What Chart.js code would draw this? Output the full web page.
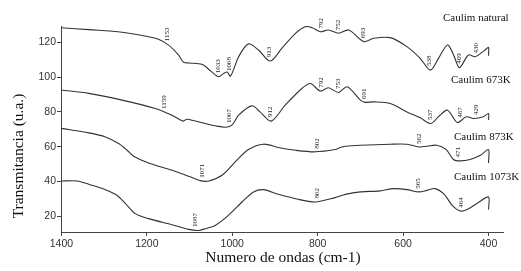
<!DOCTYPE html>
<html>
<head>
<meta charset="utf-8">
<script src="https://cdn.jsdelivr.net/npm/chart.js@4"></script>
<style>
  html, body { margin: 0; padding: 0; background: #fff; }
  #wrap { width: 521px; height: 271px; }
</style>
</head>
<body>
<div id="wrap"><canvas id="ftir"></canvas></div>
<script>
// Nombres de las muestras
const seriesNames = ['Caulim natural', 'Caulim 673K', 'Caulim 873K', 'Caulim 1073K'];

// Caulim natural (numero de onda / transmitancia)
const natX = [1400, 1336, 1258, 1180, 1150, 1126, 1114, 1100, 1071, 1050, 1032, 1020, 1012, 1004, 985, 962, 938, 911, 884, 852, 829, 813, 794, 775, 751, 727, 692, 669, 630, 591, 560, 536, 516, 496, 482, 468, 447, 431, 408, 400, 399.9];
const natY = [128.5, 127.4, 125.9, 122.4, 118.6, 112.8, 108.6, 108.2, 107.4, 103.5, 100.3, 102.2, 103, 100.6, 111.8, 119.2, 115.5, 109.3, 116.6, 125.3, 129.1, 128.5, 126.2, 127.2, 125.3, 127.2, 120.5, 122.4, 122.8, 117.6, 110.9, 104.1, 111.3, 118.6, 113, 105.5, 112.8, 111.8, 115.7, 117.2, 112.4];

// Caulim 673K
const k673X = [1400, 1336, 1258, 1180, 1141, 1115, 1106, 1063, 1040, 1015, 1000, 985, 954, 935, 909, 876, 837, 817, 794, 775, 751, 731, 700, 689, 669, 630, 591, 560, 535, 516, 496, 473, 452, 435, 412, 400, 399.9];
const k673Y = [92.6, 90.7, 86.8, 82, 78.1, 74.7, 75.8, 73.3, 72, 71.2, 72.5, 78.1, 83.5, 80, 74.7, 83.9, 93.5, 96.4, 92, 93.9, 91.2, 94.5, 86.8, 85.5, 85.8, 84.9, 80, 76.6, 73.3, 77.5, 81, 73.9, 77.2, 76.2, 77.2, 79.1, 75.3];

// Caulim 873K
const k873X = [1400, 1336, 1297, 1266, 1246, 1231, 1196, 1141, 1102, 1075, 1055, 1024, 993, 962, 927, 892, 852, 806, 759, 747, 735, 700, 630, 591, 563, 544, 521, 499, 482, 466, 443, 419, 400, 399.9];
const k873Y = [70.5, 67.9, 65.6, 61.8, 57.9, 54.5, 50.6, 46.4, 42.9, 40.4, 40.2, 43.5, 51.2, 58.3, 61.4, 59.5, 57.9, 57, 58.3, 59.5, 60.2, 60.8, 61.4, 61.4, 59.8, 60.2, 60.8, 58.3, 52.6, 51.8, 52.6, 55, 58.3, 50.6];

// Caulim 1073K
const k1073X = [1400, 1363, 1336, 1297, 1270, 1250, 1227, 1196, 1141, 1102, 1079, 1063, 1040, 1009, 977, 950, 927, 892, 852, 806, 759, 735, 700, 654, 622, 591, 563, 544, 525, 505, 485, 466, 450, 427, 400, 399.9];
const k1073Y = [40.2, 40.2, 38.3, 35.2, 32, 27.2, 21.4, 18.5, 15, 12.3, 11.7, 12.7, 14.6, 20.4, 28.1, 33.9, 35.2, 32.5, 30, 28.1, 30.6, 32.5, 33.9, 34.5, 35.8, 35.2, 33.9, 34.8, 35.8, 32.9, 26.2, 22.9, 23.7, 27.2, 31, 23.7];

// Bandas marcadas en cada espectro
const natPeaks = [1153, 1033, 1008, 913, 792, 752, 693, 538, 469, 430];
const k673Peaks = [1159, 1007, 912, 792, 753, 691, 537, 467, 429];
const k873Peaks = [1071, 802, 562, 471];
const k1073Peaks = [1087, 802, 565, 464];

// Marcas de los ejes
const xTicks = [1400, 1200, 1000, 800, 600, 400];
const yTicks = [20, 40, 60, 80, 100, 120];

const allX = [natX, k673X, k873X, k1073X];
const allY = [natY, k673Y, k873Y, k1073Y];
const allPeaks = [natPeaks, k673Peaks, k873Peaks, k1073Peaks];

// interpolacion lineal para ubicar las etiquetas sobre la curva
function valueAt(xs, ys, v) {
  for (let i = 0; i < xs.length - 1; i++) {
    const a = xs[i], b = xs[i + 1];
    if ((v <= a && v >= b) && a !== b) {
      const t = (a - v) / (a - b);
      return ys[i] + t * (ys[i + 1] - ys[i]);
    }
  }
  return ys[ys.length - 1];
}

const serif = "'Liberation Serif', 'Times New Roman', serif";

const annotations = {
  id: 'annotations',
  afterDatasetsDraw(chart) {
    const { ctx, scales: { x, y }, chartArea } = chart;
    ctx.save();
    ctx.fillStyle = '#222';

    // numeros de las bandas, rotados
    ctx.font = '7px ' + serif;
    ctx.textAlign = 'left';
    ctx.textBaseline = 'middle';
    allPeaks.forEach((peaks, i) => {
      peaks.forEach(p => {
        const px = x.getPixelForValue(p);
        const py = y.getPixelForValue(valueAt(allX[i], allY[i], p));
        ctx.save();
        ctx.translate(px, py - 3);
        ctx.rotate(-Math.PI / 2);
        ctx.fillText(String(p), 0, 0);
        ctx.restore();
      });
    });

    // nombres de las muestras
    const spots = [[443, 18], [451, 80], [454, 137], [454, 177]];
    ctx.font = '11px ' + serif;
    ctx.fillStyle = '#111';
    seriesNames.forEach((name, i) => {
      ctx.fillText(name, spots[i][0], spots[i][1]);
    });

    // titulos de los ejes
    ctx.font = '15.5px ' + serif;
    ctx.textAlign = 'center';
    ctx.fillText('Numero de ondas (cm-1)', (chartArea.left + chartArea.right) / 2 + 1, 258);
    ctx.save();
    ctx.translate(19, 156);
    ctx.rotate(-Math.PI / 2);
    ctx.fillText('Transmitancia (u.a.)', 0, 0);
    ctx.restore();

    ctx.restore();
  }
};

const ctx = document.getElementById('ftir').getContext('2d');

new Chart(ctx, {
  type: 'line',
  data: {
    datasets: allX.map((xs, i) => ({
      label: seriesNames[i],
      data: xs.map((v, j) => ({ x: v, y: allY[i][j] })),
      borderColor: '#333',
      borderWidth: 1.1,
      pointRadius: 0,
      tension: 0.3,
      fill: false
    }))
  },
  options: {
    responsive: true,
    maintainAspectRatio: false,
    animation: false,
    layout: { padding: { left: 0, right: 18, top: 26, bottom: 0 } },
    plugins: {
      legend: { display: false },
      tooltip: { enabled: false }
    },
    scales: {
      x: {
        type: 'linear',
        reverse: true,
        min: 366,
        max: 1401,
        afterBuildTicks: s => { s.ticks = xTicks.map(v => ({ value: v })); },
        afterFit: s => { s.height = 39; },
        grid: { drawOnChartArea: false, drawTicks: true, tickLength: 4, color: '#444' },
        border: { color: '#444', width: 1 },
        ticks: {
          padding: 2,
          color: '#333',
          font: { family: "'Liberation Sans', Arial, sans-serif", size: 10.5 },
          maxRotation: 0,
          callback: v => String(v)
        }
      },
      y: {
        type: 'linear',
        min: 10.8,
        max: 129.5,
        afterBuildTicks: s => { s.ticks = yTicks.map(v => ({ value: v })); },
        afterFit: s => { s.width = 61; },
        grid: { drawOnChartArea: false, drawTicks: true, tickLength: 4, color: '#444' },
        border: { color: '#444', width: 1 },
        ticks: {
          padding: 1,
          color: '#333',
          font: { family: "'Liberation Sans', Arial, sans-serif", size: 10.5 },
          callback: v => String(v)
        }
      }
    }
  },
  plugins: [annotations]
});
</script>
</body>
</html>
